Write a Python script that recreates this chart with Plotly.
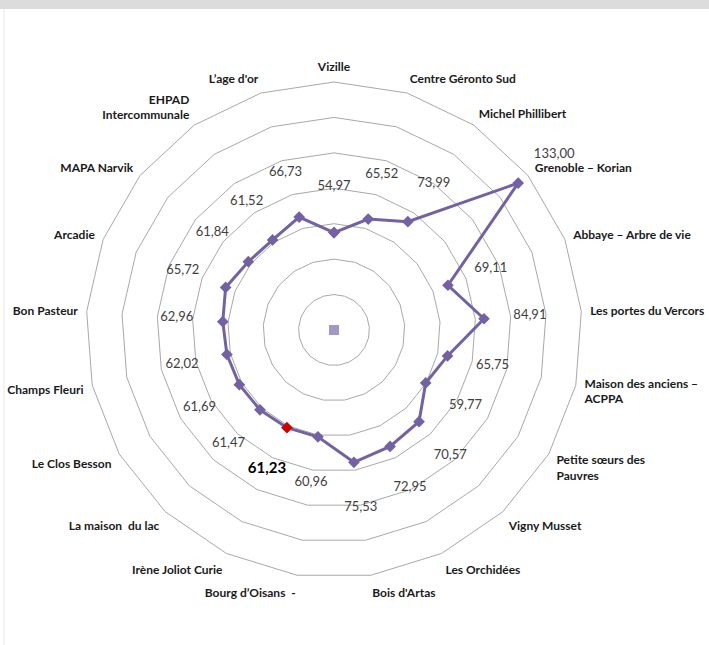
import plotly.graph_objects as go

categories = [
    "Vizille", "Centre Géronto Sud", "Michel Phillibert", "Grenoble – Korian",
    "Abbaye – Arbre de vie", "Les portes du Vercors", "Maison des anciens –<br>ACPPA",
    "Petite sœurs des<br>Pauvres", "Vigny Musset", "Les Orchidées", "Bois d'Artas",
    "Bourg d’Oisans  -", "Irène Joliot Curie", "La maison  du lac", "Le Clos Besson",
    "Champs Fleuri", "Bon Pasteur", "Arcadie", "MAPA Narvik",
    "EHPAD<br>Intercommunale", "L’age d'or",
]
values = [
    54.97, 65.52, 73.99, 133.00, 69.11, 84.91, 65.75, 59.77, 70.57, 72.95, 75.53,
    60.96, 61.23, 61.47, 61.69, 62.02, 62.96, 65.72, 61.84, 61.52, 66.73,
]
highlight = "Irène Joliot Curie"
radial_ticks = [0, 20, 40, 60, 80, 100, 120, 140]

LINE = "#7361A3"
RED = "#D00000"

theta_closed = categories + [categories[0]]
r_closed = values + [values[0]]
marker_colors = [RED if c == highlight else LINE for c in theta_closed]

labels = [f"{v:.2f}".replace(".", ",") for v in values]
label_text = [f"<b>{t}</b>" if c == highlight else t for t, c in zip(labels, categories)]
label_size = [15 if c == highlight else 13 for c in categories]
label_color = ["#000000" if c == highlight else "#404040" for c in categories]
label_r = [v + 26 for v in values]

fig = go.Figure()
fig.add_trace(go.Scatterpolar(
    r=r_closed, theta=theta_closed, mode="lines+markers",
    line=dict(color=LINE, width=3),
    marker=dict(symbol="diamond", size=9, color=marker_colors),
    hoverinfo="skip", showlegend=False,
))
fig.add_trace(go.Scatterpolar(
    r=[0.0001], theta=[categories[0]], mode="markers",
    marker=dict(symbol="square", size=10, color="#A497C6"),
    cliponaxis=False, hoverinfo="skip", showlegend=False,
))
# data labels on an invisible overlay polar with the same scale but a wider range
fig.add_trace(go.Scatterpolar(
    r=label_r, theta=categories, mode="text", text=label_text,
    textfont=dict(family="Lato", size=label_size, color=label_color),
    cliponaxis=False, hoverinfo="skip", showlegend=False, subplot="polar2",
))

cx, cy, rad = 334, 330, 248
rmax, rmax2 = 140, 170
rad2 = rad * rmax2 / rmax
W, H = 709, 645


def dom(R):
    return dict(x=[(cx - R) / W, (cx + R) / W], y=[(H - cy - R) / H, (H - cy + R) / H])


fig.update_layout(
    width=W, height=H,
    margin=dict(l=0, r=0, t=0, b=0),
    paper_bgcolor="white",
    polar=dict(
        domain=dom(rad),
        bgcolor="white",
        gridshape="linear",
        radialaxis=dict(range=[0, rmax], tickvals=radial_ticks, showticklabels=False,
                        ticks="", showline=False, gridcolor="#A8A8A8", gridwidth=1),
        angularaxis=dict(type="category", direction="clockwise", rotation=90,
                         categoryarray=categories,
                         showgrid=False, showline=True, linecolor="#A8A8A8", linewidth=1,
                         ticks="outside", ticklen=6, tickcolor="rgba(0,0,0,0)",
                         tickfont=dict(family="Lato", size=12, color="#1a1a1a", weight="bold")),
    ),
    polar2=dict(
        domain=dom(rad2),
        bgcolor="rgba(0,0,0,0)",
        radialaxis=dict(range=[0, rmax2], visible=False, showgrid=False),
        angularaxis=dict(type="category", direction="clockwise", rotation=90,
                         categoryarray=categories, showgrid=False, showline=False,
                         showticklabels=False, ticks=""),
    ),
    shapes=[
        dict(type="rect", xref="paper", yref="paper", x0=0, x1=1, y0=1 - 9 / H, y1=1,
             fillcolor="#DCDCDC", line=dict(width=0), layer="above"),
        dict(type="line", xref="paper", yref="paper", x0=4 / W, x1=4 / W, y0=0, y1=1 - 9 / H,
             line=dict(color="#E8E8E8", width=1), layer="below"),
    ],
)
fig.write_html("out.html", config={"displayModeBar": False},
               post_script="document.body.style.margin='0';")
